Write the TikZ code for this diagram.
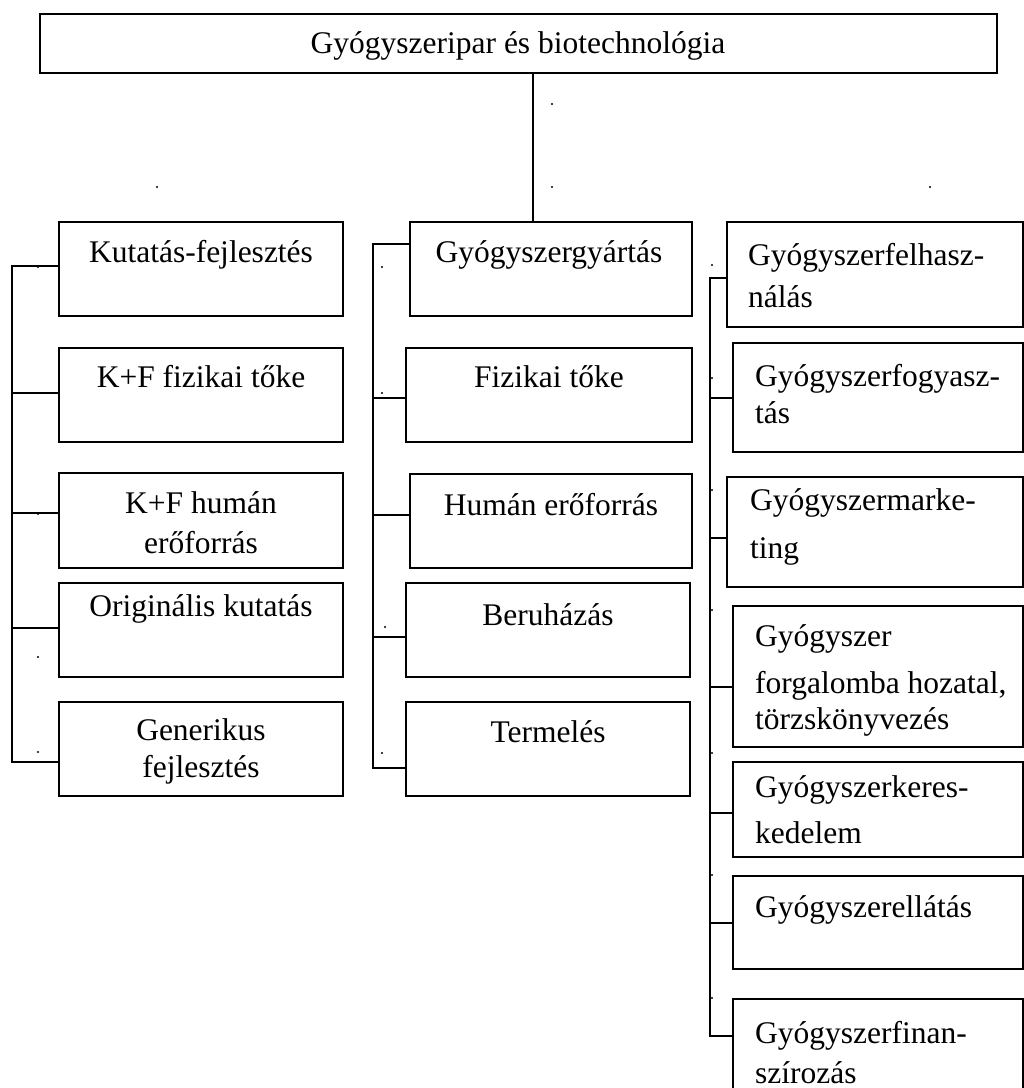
\documentclass[tikz,border=0pt]{standalone}
\usepackage{fontspec}
\setmainfont{Liberation Serif}
\usetikzlibrary{fit}
% stacked lines whose baseline is the baseline of the first line
\newcommand\clines[2]{\vtop{\baselineskip=#1\lineskiplimit=-100pt\lineskip=0pt\halign{\hfil##\hfil\cr#2\crcr}}}
\newcommand\llines[2]{\vtop{\baselineskip=#1\lineskiplimit=-100pt\lineskip=0pt\halign{##\hfil\cr#2\crcr}}}
\begin{document}
\begin{tikzpicture}[x=1pt, y=-1pt,
  font=\fontsize{31.5}{38}\selectfont,
  box/.style={draw, line width=1.3pt, inner sep=0pt},
  link/.style={line width=1.8pt},
  txt/.style={inner sep=0pt, anchor=base},
  ltxt/.style={inner sep=0pt, anchor=base west},
  dotmark/.style={fill=black}]
\useasboundingbox (0,0) rectangle (1024,1088);
\clip (0,0) rectangle (1024,1088);

% root
\node[box, fit={(40,14) (997,73)}] (top) {};
\node[txt] (topt) at (518,53) {Gyógyszeripar és biotechnológia};

% research and development column
\node[box, fit={(59,222) (343,316)}] (k1) {};
\node[box, fit={(59,348) (343,442)}] (k2) {};
\node[box, fit={(59,473) (343,568)}] (k3) {};
\node[box, fit={(59,583) (343,677)}] (k4) {};
\node[box, fit={(59,702) (343,796)}] (k5) {};
\node[txt] (k1t) at (201,262) {Kutatás-fejlesztés};
\node[txt] (k2t) at (201,387) {K+F fizikai tőke};
\node[txt] (k3t) at (201,513) {\clines{40pt}{K+F humán\cr erőforrás}};
\node[txt] (k4t) at (201,616) {Originális kutatás};
\node[txt] (k5t) at (201,740) {\clines{37pt}{Generikus\cr fejlesztés}};

% manufacturing column
\node[box, fit={(410,222) (692,316)}] (m1) {};
\node[box, fit={(406,348) (692,442)}] (m2) {};
\node[box, fit={(410,474) (692,568)}] (m3) {};
\node[box, fit={(406,583) (690,677)}] (m4) {};
\node[box, fit={(406,702) (690,796)}] (m5) {};
\node[txt] (m1t) at (549,262) {Gyógyszergyártás};
\node[txt] (m2t) at (549,387) {Fizikai tőke};
\node[txt] (m3t) at (551,515) {Humán erőforrás};
\node[txt] (m4t) at (548,625) {Beruházás};
\node[txt] (m5t) at (548,742) {Termelés};

% use column
\node[box, fit={(727,222) (1023,327)}] (r1) {};
\node[box, fit={(733,343) (1023,452)}] (r2) {};
\node[box, fit={(727,477) (1023,587)}] (r3) {};
\node[box, fit={(733,606) (1023,747)}] (r4) {};
\node[box, fit={(733,762) (1023,857)}] (r5) {};
\node[box, fit={(733,876) (1023,969)}] (r6) {};
\node[box, fit={(733,999) (1023,1130)}] (r7) {};
\node[ltxt] (r1t) at (748,265) {\llines{42pt}{Gyógyszerfelhasz-\cr nálás}};
\node[ltxt] (r2t) at (755,386) {\llines{37pt}{Gyógyszerfogyasz-\cr tás}};
\node[ltxt] (r3t) at (750,510) {\llines{48pt}{Gyógyszermarke-\cr ting}};
\node[ltxt] (r4t) at (755,646) {\llines{36pt}{Gyógyszer\cr\noalign{\vskip11pt}forgalomba hozatal,\cr törzskönyvezés}};
\node[ltxt] (r5t) at (755,797) {\llines{46pt}{Gyógyszerkeres-\cr kedelem}};
\node[ltxt] (r6t) at (755,917) {Gyógyszerellátás};
\node[ltxt] (r7t) at (755,1043) {\llines{40pt}{Gyógyszerfinan-\cr szírozás}};

% trunk from the root
\coordinate (trunk) at (533,0);
\draw[link] (top.south -| trunk) -- (m1.north -| trunk);

% left bracket
\coordinate (lt1) at (12,266);
\coordinate (lt2) at (12,393);
\coordinate (lt3) at (12,513);
\coordinate (lt4) at (12,628);
\coordinate (lt5) at (12,762);
\draw[link] (k1.west |- lt1) -- (lt1) -- (lt5) -- (k5.west |- lt5);
\draw[link] (lt2) -- (k2.west |- lt2);
\draw[link] (lt3) -- (k3.west |- lt3);
\draw[link] (lt4) -- (k4.west |- lt4);

% middle bracket
\coordinate (mt1) at (373,244);
\coordinate (mt2) at (373,398);
\coordinate (mt3) at (373,515);
\coordinate (mt4) at (373,637);
\coordinate (mt5) at (373,768);
\draw[link] (m1.west |- mt1) -- (mt1) -- (mt5) -- (m5.west |- mt5);
\draw[link] (mt2) -- (m2.west |- mt2);
\draw[link] (mt3) -- (m3.west |- mt3);
\draw[link] (mt4) -- (m4.west |- mt4);

% right bracket
\coordinate (rt1) at (710,278);
\coordinate (rt2) at (710,398);
\coordinate (rt3) at (710,538);
\coordinate (rt4) at (710,687);
\coordinate (rt5) at (710,813);
\coordinate (rt6) at (710,923);
\coordinate (rt7) at (710,1036);
\draw[link] (r1.west |- rt1) -- (rt1) -- (rt7) -- (r7.west |- rt7);
\draw[link] (rt2) -- (r2.west |- rt2);
\draw[link] (rt3) -- (r3.west |- rt3);
\draw[link] (rt4) -- (r4.west |- rt4);
\draw[link] (rt5) -- (r5.west |- rt5);
\draw[link] (rt6) -- (r6.west |- rt6);

% stray point marks
\foreach \p in {(552,104),(157,187),(552,187),(930,187),
  (38,267),(38,393),(38,514),(38,657),(38,752),
  (382,267),(382,393),(385,515),(385,627),(382,753),
  (712,265),(712,378),(712,490),(712,610),(712,753),(712,875),(712,998)}
  \fill[dotmark] \p circle (1.1pt);
\end{tikzpicture}
\end{document}
